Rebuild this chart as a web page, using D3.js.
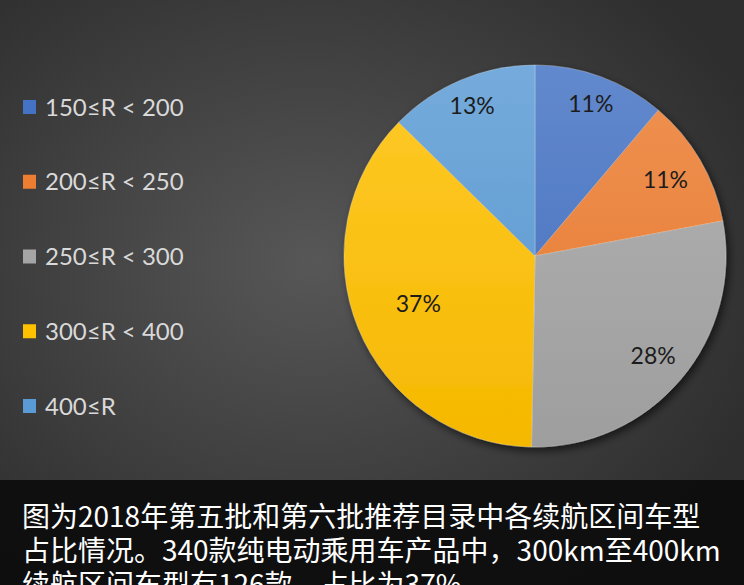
<!DOCTYPE html>
<html>
<head>
<meta charset="utf-8">
<script src="https://cdn.jsdelivr.net/npm/d3@7"></script>
<style>
  html, body { margin: 0; padding: 0; background: #3a3a3a; overflow: hidden; }
  svg { display: block; }
</style>
</head>
<body>
<svg id="chart"></svg>
<script>
// categories and counts (340 models in total)
const categories = ["150≤R < 200", "200≤R < 250", "250≤R < 300", "300≤R < 400", "400≤R"];
const counts = [38, 37, 96, 126, 43];
const colors = ["#4472C4", "#ED7D31", "#A5A5A5", "#FFC000", "#5B9BD5"];
const captionLines = [
    "图为2018年第五批和第六批推荐目录中各续航区间车型",
    "占比情况。340款纯电动乘用车产品中，300km至400km",
    "续航区间车型有126款，占比为37%。"
];

const W = 744, H = 585;
const cx = 535, cy = 256, R = 191;
const labelRatio = [0.85, 0.79, 0.81, 0.66, 0.85]; // label distance, like excel "best fit"

const svg = d3.select("#chart").attr("width", W).attr("height", H);
const defs = svg.append("defs");

// background gradient
const bg = defs.append("radialGradient").attr("id", "bg")
    .attr("cx", "42%").attr("cy", "45%").attr("r", "65%");
bg.append("stop").attr("offset", "0%").attr("stop-color", "#575757");
bg.append("stop").attr("offset", "100%").attr("stop-color", "#2e2e2e");
svg.append("rect").attr("width", W).attr("height", H).attr("fill", "url(#bg)");

// slice gradients (lighter top, base colour bottom)
colors.forEach((c, i) => {
    const g = defs.append("linearGradient").attr("id", "sl" + i)
        .attr("gradientUnits", "userSpaceOnUse")
        .attr("x1", 0).attr("y1", -R).attr("x2", 0).attr("y2", R);
    g.append("stop").attr("offset", "0%").attr("stop-color", d3.interpolateRgb(c, "#fff")(0.16));
    g.append("stop").attr("offset", "100%").attr("stop-color", d3.interpolateRgb(c, "#000")(0.04));
});

const shadow = defs.append("filter").attr("id", "shadow")
    .attr("x", "-20%").attr("y", "-20%").attr("width", "150%").attr("height", "150%");
shadow.append("feDropShadow").attr("dx", 3).attr("dy", 4).attr("stdDeviation", 4)
    .attr("flood-color", "#000").attr("flood-opacity", 0.6);

// pie
const total = d3.sum(counts);
const pie = d3.pie().sort(null).value(d => d);
const arcs = pie(counts);
const arc = d3.arc().innerRadius(0).outerRadius(R);

const g_pie = svg.append("g").attr("transform", "translate(" + cx + "," + cy + ")");
g_pie.append("g").attr("filter", "url(#shadow)")
    .selectAll("path").data(arcs).join("path")
    .attr("d", arc)
    .attr("fill", (d, i) => "url(#sl" + i + ")")
    .attr("stroke", "rgba(255,255,255,0.3)").attr("stroke-width", 0.8);

g_pie.selectAll(".plabel").data(arcs).join("text").classed("plabel", true)
    .attr("transform", (d, i) => {
        const r = R * labelRatio[i];
        const a = (d.startAngle + d.endAngle) / 2;
        return "translate(" + (Math.sin(a) * r) + "," + (-Math.cos(a) * r) + ")";
    })
    .attr("text-anchor", "middle").attr("dy", "0.35em")
    .attr("font-family", "Lato, 'Open Sans', sans-serif").attr("font-size", 23)
    .attr("fill", "#1c1c1c")
    .text(d => Math.round(d.value / total * 100) + "%");

// legend
const ly = d3.scalePoint().domain(categories).range([107, 406]);
const items = svg.append("g").selectAll("g").data(categories).join("g")
    .attr("transform", d => "translate(23," + ly(d) + ")");
items.append("rect").attr("x", 0).attr("y", -7).attr("width", 13).attr("height", 14)
    .attr("fill", (d, i) => colors[i]);
items.append("text").attr("x", 22).attr("dy", "0.36em")
    .attr("font-family", "Lato, 'Open Sans', sans-serif").attr("font-size", 24)
    .attr("fill", "#d9d9d9")
    .text(d => d);

// caption band
svg.append("rect").attr("x", 0).attr("y", 480).attr("width", W).attr("height", H - 480)
    .attr("fill", "#0e0e0e").attr("opacity", 0.96);
svg.append("g").selectAll("text").data(captionLines).join("text")
    .attr("x", 22).attr("y", (d, i) => 527 + i * 34)
    .attr("font-family", "'Noto Sans CJK SC', sans-serif").attr("font-size", 28)
    .attr("fill", "#ffffff")
    .text(d => d);
</script>
</body>
</html>
